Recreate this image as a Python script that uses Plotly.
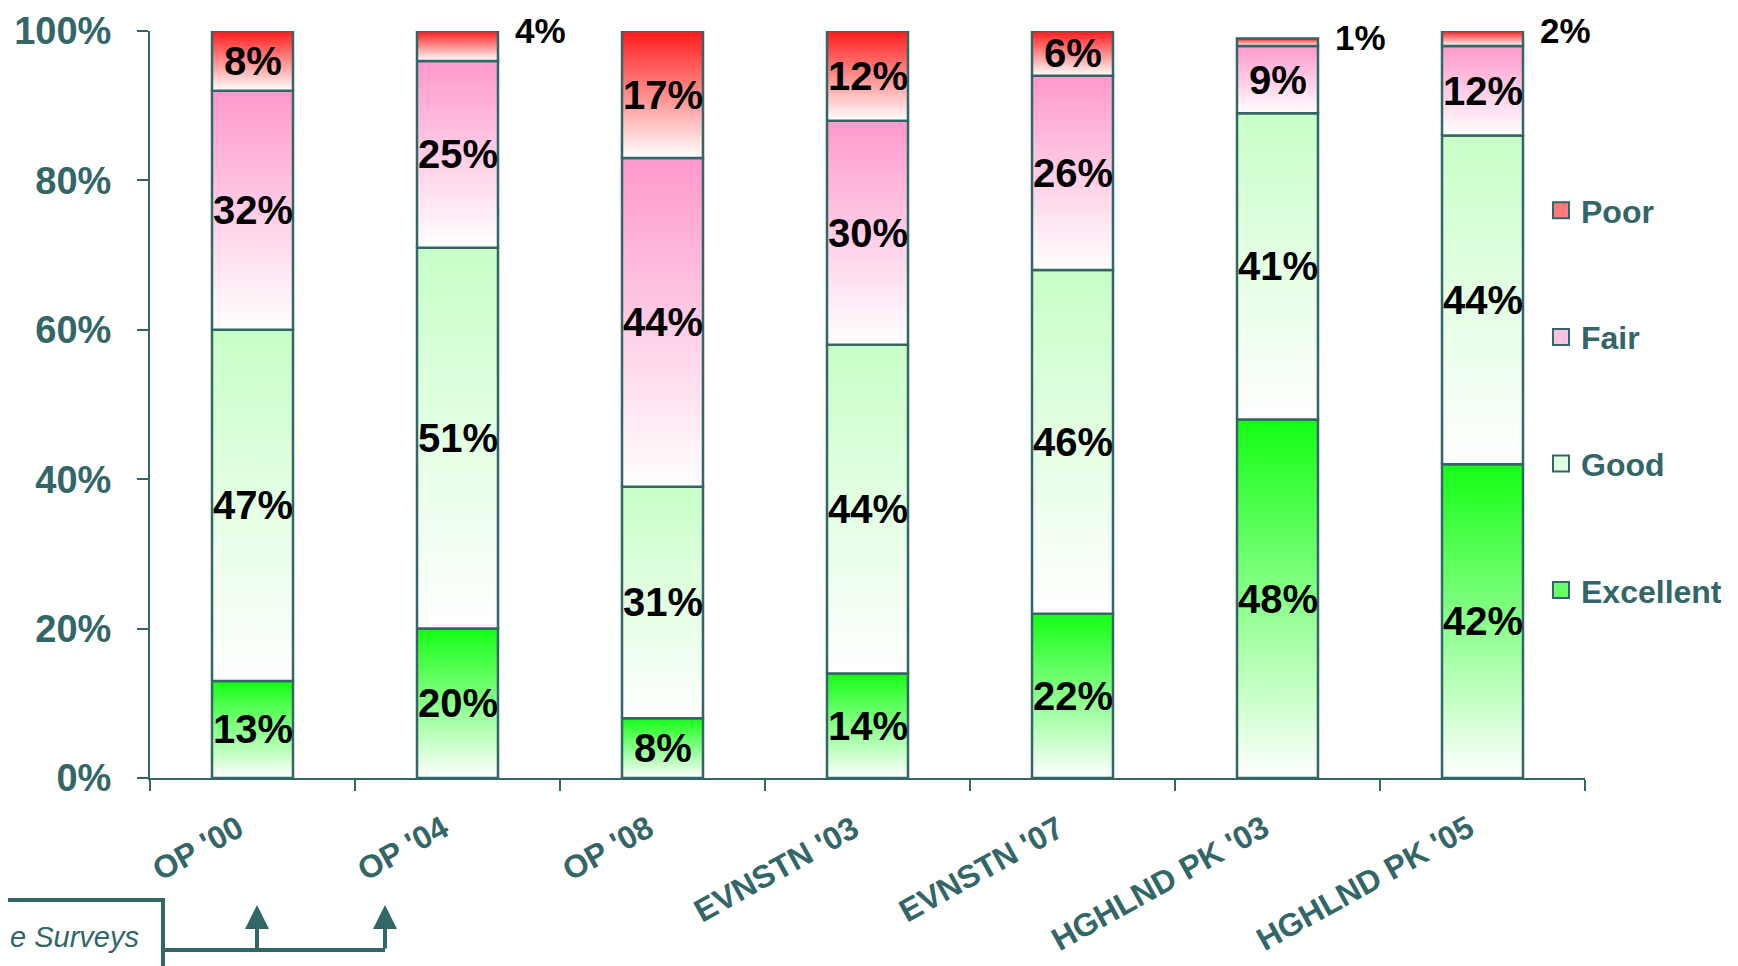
import plotly.graph_objects as go

categories = ["OP '00", "OP '04", "OP '08", "EVNSTN '03", "EVNSTN '07", "HGHLND PK '03", "HGHLND PK '05"]
excellent = [13, 20, 8, 14, 22, 48, 42]
good = [47, 51, 31, 44, 46, 41, 44]
fair = [32, 25, 44, 30, 26, 9, 12]
poor = [8, 4, 17, 12, 6, 1, 2]
series_names = ["Excellent", "Good", "Fair", "Poor"]
y_ticks = [0, 20, 40, 60, 80, 100]

TEAL = "#336666"
FONT = "Liberation Sans, Arial, sans-serif"
top_colors = {"Excellent": "#14FF14", "Good": "#C8FFC8", "Fair": "#FF99CC", "Poor": "#FF1A1A"}
mid_colors = {"Excellent": "#66FF66", "Good": "#E0FFE0", "Fair": "#FFC2DE", "Poor": "#FF7A7A"}

series = {"Excellent": excellent, "Good": good, "Fair": fair, "Poor": poor}
bar_w = 0.395

# page has an 8px body margin: work in page pixels, convert to figure pixels
OFF = 8
W, H = 1738 - OFF, 966 - OFF
PL, PR, PT, PB = 150, 1585, 31, 778          # plot area in page pixels
L, T = PL - OFF, PT - OFF
R, B = W - (PR - OFF), H - (PB - OFF)
PW, PH = PR - PL, PB - PT


def px_x(p):
    return (p - PL) / PW


def px_y(p):
    return (PB - p) / PH


fig = go.Figure()
annotations = []
base = [0] * len(categories)
for name in series_names:
    vals = series[name]
    for i, v in enumerate(vals):
        b = base[i]
        t = b + v
        x0, x1 = i - bar_w / 2, i + bar_w / 2
        fig.add_trace(go.Scatter(
            x=[x0, x1, x1, x0, x0], y=[b, b, t, t, b],
            mode="lines", fill="toself",
            fillgradient=dict(type="vertical",
                              colorscale=[[0, "#FFFFFF"], [1, top_colors[name]]]),
            line=dict(color=TEAL, width=2.5),
            showlegend=False, hoverinfo="skip"))
        if v >= 5:
            annotations.append(dict(x=i, y=(b + t) / 2, xref="x", yref="y",
                                    text=f"{v}%", showarrow=False,
                                    font=dict(family=FONT, size=40, color="black", weight="bold")))
        else:
            annotations.append(dict(x=x1, y=t, xref="x", yref="y", xanchor="left",
                                    xshift=15, yshift=1,
                                    text=f"{v}%", showarrow=False,
                                    font=dict(family=FONT, size=35, color="black", weight="bold")))
        base[i] = t

# category labels
for i, c in enumerate(categories):
    annotations.append(dict(x=i, y=0, xref="x", yref="paper", xanchor="right", yanchor="top",
                            xshift=0, yshift=-28, textangle=-29, text=c, showarrow=False,
                            font=dict(family=FONT, size=32, color=TEAL, weight="bold")))

for name in reversed(series_names):
    fig.add_trace(go.Scatter(
        x=[None], y=[None], mode="markers", name=name, legendgroup=name,
        marker=dict(symbol="square", size=20, color=mid_colors[name],
                    line=dict(color=TEAL, width=2))))

# Survey box and connector (decorative)
fig.add_shape(type="rect", xref="paper", yref="paper", x0=px_x(-20), x1=px_x(163),
              y0=px_y(900), y1=px_y(1000),
              line=dict(color=TEAL, width=4))
annotations.append(dict(x=px_x(OFF), y=px_y(937), xref="paper", yref="paper",
                        xanchor="left", yanchor="middle", text="<i>e Surveys</i>",
                        showarrow=False, font=dict(family=FONT, size=29, color=TEAL)))
fig.add_shape(type="line", xref="paper", yref="paper",
              x0=px_x(163), x1=px_x(385), y0=px_y(950), y1=px_y(950),
              line=dict(color=TEAL, width=4))
for ax_px in (257, 385):
    annotations.append(dict(x=px_x(ax_px), y=px_y(905), xref="paper", yref="paper",
                            ax=0, ay=45, showarrow=True, arrowhead=2, arrowsize=1.2,
                            arrowwidth=4, arrowcolor=TEAL, text=""))

fig.update_layout(
    width=W, height=H,
    margin=dict(l=L, r=R, t=T, b=B, autoexpand=False),
    plot_bgcolor="white", paper_bgcolor="white",
    annotations=annotations,
    legend=dict(x=px_x(1541), y=px_y(183), xanchor="left", yanchor="top",
                traceorder="grouped", tracegroupgap=82, itemsizing="trace",
                font=dict(family=FONT, size=32, color=TEAL, weight="bold"),
                bgcolor="rgba(0,0,0,0)", itemwidth=30),
    xaxis=dict(range=[-0.5, 6.5], tickvals=list(range(len(categories))),
               ticktext=[""] * len(categories), ticks="", showgrid=False, zeroline=False,
               showline=True, linecolor=TEAL, linewidth=2, automargin=False,
               minor=dict(tick0=-0.5, dtick=1, ticks="outside", ticklen=11,
                          tickcolor=TEAL, tickwidth=2, showgrid=False)),
    yaxis=dict(range=[0, 100], tickvals=y_ticks, ticktext=[f"{v}%" for v in y_ticks],
               ticks="outside", ticklen=11, tickcolor=TEAL, tickwidth=2,
               showgrid=False, zeroline=False, showline=True, linecolor=TEAL, linewidth=2,
               tickfont=dict(family=FONT, size=38, color=TEAL, weight="bold"),
               ticklabelstandoff=18, automargin=False),
)

fig.write_html("out.html")
